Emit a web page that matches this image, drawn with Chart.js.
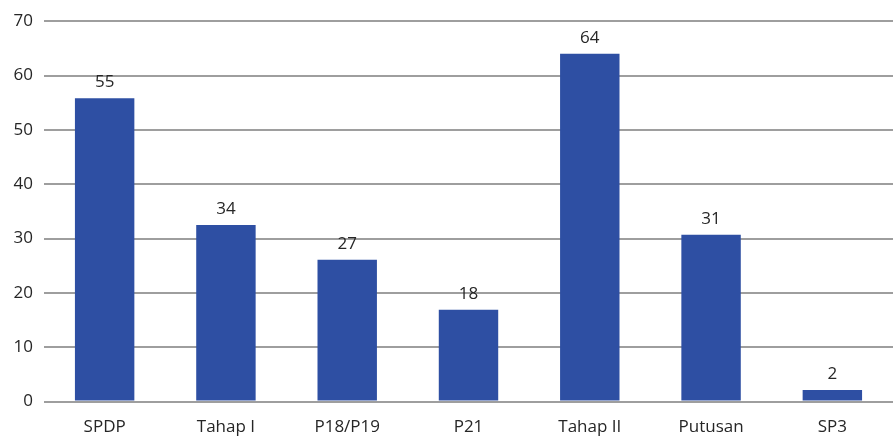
<!DOCTYPE html>
<html>
<head>
<meta charset="utf-8">
<script src="https://cdn.jsdelivr.net/npm/chart.js@4/dist/chart.umd.min.js"></script>
<style>
  html, body { margin: 0; padding: 0; background: #fff; }
  #wrap { width: 893px; height: 436px; }
</style>
</head>
<body>
<div id="wrap"><canvas id="barChart" width="893" height="436"></canvas></div>
<script>
// Data
const categories = ['SPDP', 'Tahap I', 'P18/P19', 'P21', 'Tahap II', 'Putusan', 'SP3'];
const barValues = [55.8, 32.5, 26.1, 16.9, 64.0, 30.7, 2.1];
const valueLabels = ['55', '34', '27', '18', '64', '31', '2'];
const yTicks = [0, 10, 20, 30, 40, 50, 60, 70];

const fontFamily = '"Open Sans", "Noto Sans", sans-serif';

// Label di atas batang
const barLabels = {
  id: 'barLabels',
  afterDatasetsDraw(chart) {
    const c = chart.ctx;
    const meta = chart.getDatasetMeta(0);
    c.save();
    c.font = '17px ' + fontFamily;
    c.fillStyle = '#262626';
    c.textAlign = 'center';
    c.textBaseline = 'alphabetic';
    meta.data.forEach((bar, i) => {
      c.fillText(valueLabels[i], bar.x, bar.y - 11);
    });
    c.restore();
  }
};

const ctx = document.getElementById('barChart').getContext('2d');
const chart = new Chart(ctx, {
  type: 'bar',
  data: {
    labels: categories,
    datasets: [{
      data: barValues,
      backgroundColor: '#2E4FA3',
      borderWidth: 0,
      categoryPercentage: 1,
      barPercentage: 0.49
    }]
  },
  options: {
    responsive: false,
    animation: false,
    layout: { padding: { top: 16, right: 0, left: 0, bottom: 0 } },
    plugins: {
      legend: { display: false },
      tooltip: { enabled: false }
    },
    scales: {
      x: {
        grid: { display: false, drawTicks: false },
        border: { display: false },
        ticks: {
          color: '#262626',
          font: { size: 17, family: fontFamily },
          padding: 15,
          maxRotation: 0
        },
        afterFit(scale) { scale.height = 34.5; }
      },
      y: {
        min: 0,
        max: 70,
        afterBuildTicks(scale) { scale.ticks = yTicks.map(v => ({ value: v })); },
        grid: { color: '#9E9E9E', lineWidth: 2, drawTicks: false },
        border: { display: false },
        ticks: {
          color: '#262626',
          font: { size: 17, family: fontFamily },
          padding: 11
        },
        afterFit(scale) { scale.width = 44; }
      }
    }
  },
  plugins: [barLabels]
});
</script>
</body>
</html>
